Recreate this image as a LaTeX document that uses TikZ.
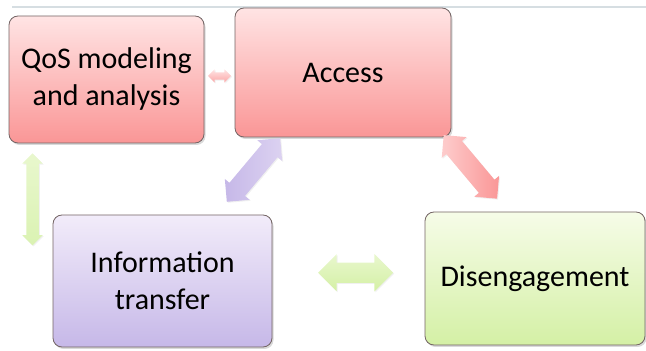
\documentclass[tikz,border=0pt]{standalone}
\usepackage{fontspec}
\setmainfont{Carlito}
\usetikzlibrary{calc,shapes.arrows,shadows}
\definecolor{pinktop}{RGB}{255,228,228}
\definecolor{pinkbottom}{RGB}{250,150,150}
\definecolor{purpletop}{RGB}{242,236,250}
\definecolor{purplebottom}{RGB}{198,184,232}
\definecolor{greentop}{RGB}{246,252,232}
\definecolor{greenbottom}{RGB}{212,240,165}
\definecolor{framegray}{RGB}{115,100,100}
\definecolor{headergray}{RGB}{214,222,226}
\tikzset{phase/.style={rectangle,rounded corners=9pt,draw=framegray,line width=0.8pt,align=center,
    font=\fontsize{30}{37}\selectfont,drop shadow={shadow xshift=1.5pt,shadow yshift=-2pt,opacity=0.3}},
  pinkphase/.style={phase,top color=pinktop,bottom color=pinkbottom},
  purplephase/.style={phase,top color=purpletop,bottom color=purplebottom},
  greenphase/.style={phase,top color=greentop,bottom color=greenbottom},
  link/.style n args={3}{double arrow,draw=none,inner xsep=0pt,inner ysep=#2,minimum height=#1,
    double arrow head extend=#3,drop shadow={shadow xshift=1pt,shadow yshift=-1pt,opacity=0.12}}}

\begin{document}
\begin{tikzpicture}[x=1pt,y=1pt]
\useasboundingbox (0,0) rectangle (646,351);

\draw[headergray,line width=2pt] (12,344) -- (646,344);

\node[pinkphase,minimum width=195pt,minimum height=127pt] (qos) at (106.5,271.5) {QoS modeling\\and analysis};
\node[pinkphase,minimum width=216pt,minimum height=129pt] (access) at (343,278.5) {Access};
\node[purplephase,minimum width=219pt,minimum height=132pt] (transfer) at (162.5,70) {Information\\transfer};
\node[greenphase,minimum width=220pt,minimum height=133pt] (diseng) at (535,72.5) {Disengagement};

% double arrows between the phases
\node[link={23pt}{3.5pt}{3pt},top color=pinktop,bottom color=pinkbottom!85] (qos-access) at ($(qos.east)!.5!(access.west)$) {};
\node[link={92pt}{6pt}{4pt},rotate=90,top color=greentop!60!greenbottom,bottom color=greenbottom!85] (qos-transfer) at ([xshift=24pt,yshift=-56pt]qos.south west) {};
\node[link={83pt}{10pt}{6pt},rotate=50,left color=purplebottom,right color=purpletop!50!purplebottom] (access-transfer) at ($(access.south west)!.5!(transfer.north east)+(0,6)$) {};
\node[link={83pt}{10pt}{6pt},rotate=-50,left color=pinktop!70!pinkbottom,right color=pinkbottom] (access-diseng) at ([xshift=19pt,yshift=-29.5pt]access.south east) {};
\node[link={75pt}{10pt}{8.5pt},top color=greentop!60!greenbottom,bottom color=greenbottom] (transfer-diseng) at ($(transfer.east)!.5!(diseng.west)+(7,7)$) {};

\end{tikzpicture}
\end{document}
